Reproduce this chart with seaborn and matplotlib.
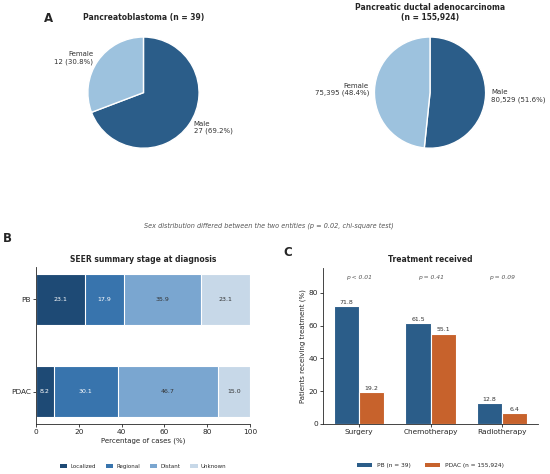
import matplotlib
matplotlib.use("Agg")
import matplotlib.pyplot as plt
import seaborn as sns
import pandas as pd
import numpy as np

sns.set_style("ticks")
plt.rcParams['font.family'] = ['DejaVu Sans']

# ---- data ----
sex_labels = ["Male", "Female"]
pb_sex = [27, 12]
pdac_sex = [80529, 75395]

groups = ["PB", "PDAC"]
stages = ["Localized", "Regional", "Distant", "Unknown"]
pb_stage = [23.1, 17.9, 35.9, 23.1]
pdac_stage = [8.2, 30.1, 46.7, 15.0]

treatments = ["Surgery", "Chemotherapy", "Radiotherapy"]
pb_treat = [71.8, 61.5, 12.8]
pdac_treat = [19.2, 55.1, 6.4]
p_values = ["p < 0.01", "p = 0.41", "p = 0.09"]
treat_series = ["PB (n = 39)", "PDAC (n = 155,924)"]

c_dark = "#2b5d89"
c_light = "#9dc2de"
c_orange = "#c7622c"
stage_colors = ["#1e4a75", "#3874ad", "#7aa6d0", "#c7d8e8"]
stage_text = ["white", "white", "#333333", "#333333"]

fig = plt.figure(figsize=(5.5, 4.74), dpi=100)

# ---- Panel A: pies ----
def draw_pie(ax, vals, title):
    tot = sum(vals)
    labs = [f"{l}\n{v:,} ({v / tot * 100:.1f}%)" for l, v in zip(sex_labels, vals)]
    ax.pie(vals, labels=labs, colors=[c_dark, c_light], startangle=90,
           counterclock=False, wedgeprops=dict(edgecolor="white", linewidth=1.0),
           textprops=dict(fontsize=5, color="#333333"), labeldistance=1.1)
    ax.set_xlim(-1.25, 1.25)
    ax.set_ylim(-1.25, 1.25)
    ax.set_title(title, fontsize=5.5, fontweight="bold", pad=2)

axA1 = fig.add_axes([0.1345, 0.658, 0.2527, 0.2932])
draw_pie(axA1, pb_sex, "Pancreatoblastoma (n = 39)")
axA2 = fig.add_axes([0.6555, 0.658, 0.2527, 0.2932])
draw_pie(axA2, pdac_sex, "Pancreatic ductal adenocarcinoma\n(n = 155,924)")

fig.text(0.488, 0.523,
         "Sex distribution differed between the two entities (p = 0.02, chi-square test)",
         fontsize=4.7, style="italic", color="#555555", ha="center", va="center")

# ---- Panel B: stacked stage bars ----
axB = fig.add_axes([0.0655, 0.1055, 0.389, 0.331])
stage_df = pd.DataFrame({"group": np.repeat(groups, len(stages)),
                         "stage": stages * len(groups),
                         "pct": pb_stage + pdac_stage})
stage_df["cum"] = stage_df.groupby("group")["pct"].cumsum()
for i in range(len(stages) - 1, -1, -1):
    sub = stage_df[stage_df["stage"] == stages[i]]
    sns.barplot(data=sub, x="cum", y="group", orient="h", color=stage_colors[i],
                saturation=1, width=0.55, edgecolor="white", linewidth=0.8,
                ax=axB, label=stages[i])
for gi, g in enumerate(groups):
    sub = stage_df[stage_df["group"] == g]
    for si, (p, c) in enumerate(zip(sub["pct"], sub["cum"])):
        axB.text(c - p / 2, gi, f"{p:.1f}", ha="center", va="center",
                 fontsize=4.5, color=stage_text[si])
axB.set_xlim(0, 100)
axB.set_ylim(1.35, -0.35)
axB.set_xlabel("Percentage of cases (%)", fontsize=5, labelpad=2)
axB.set_ylabel("")
axB.set_title("SEER summary stage at diagnosis", fontsize=5.5, fontweight="bold", pad=4)
axB.tick_params(labelsize=5.3, length=2, width=0.6, pad=1.5)
for s in ["left", "bottom"]:
    axB.spines[s].set_linewidth(0.6)
sns.despine(ax=axB)
h, l = axB.get_legend_handles_labels()
order = [l.index(s) for s in stages]
legB = axB.legend([h[k] for k in order], [l[k] for k in order], loc="upper center",
                  bbox_to_anchor=(0.5, -0.22), ncol=4, frameon=False, fontsize=4,
                  handlelength=1.3, handleheight=0.7, columnspacing=1.8,
                  handletextpad=0.6)
for hh in legB.legend_handles:
    hh.set_edgecolor("none")

# ---- Panel C: treatment ----
axC = fig.add_axes([0.5873, 0.1055, 0.391, 0.329])
treat_df = pd.DataFrame({"treatment": treatments * 2,
                         "series": np.repeat(treat_series, len(treatments)),
                         "pct": pb_treat + pdac_treat})
sns.barplot(data=treat_df, x="treatment", y="pct", hue="series",
            palette=[c_dark, c_orange], saturation=1, width=0.7,
            edgecolor="white", linewidth=0.8, ax=axC)
for cont in axC.containers:
    axC.bar_label(cont, fmt="%.1f", fontsize=4.5, padding=1, color="#333333")
for i, p in enumerate(p_values):
    axC.text(i, 89, p, ha="center", va="center", fontsize=4.3, style="italic",
             color="#555555")
axC.set_ylim(0, 95)
axC.set_yticks([0, 20, 40, 60, 80])
axC.set_xlabel("")
axC.set_ylabel("Patients receiving treatment (%)", fontsize=5, labelpad=2)
axC.set_title("Treatment received", fontsize=5.5, fontweight="bold", pad=4)
axC.tick_params(labelsize=5.3, length=2, width=0.6, pad=1.5)
for s in ["left", "bottom"]:
    axC.spines[s].set_linewidth(0.6)
sns.despine(ax=axC)
legC = axC.legend(loc="upper center", bbox_to_anchor=(0.5, -0.215), ncol=2,
                  frameon=False, fontsize=4.2, handlelength=2.6, handleheight=0.7,
                  columnspacing=2.5, handletextpad=0.8)
for hh in legC.legend_handles:
    hh.set_edgecolor("none")

# ---- panel letters ----
fig.text(0.08, 0.96, "A", fontsize=8.5, fontweight="bold", ha="left", va="center")
fig.text(0.005, 0.497, "B", fontsize=8.5, fontweight="bold", ha="left", va="center")
fig.text(0.515, 0.468, "C", fontsize=8.5, fontweight="bold", ha="left", va="center")

fig.savefig("out.png", dpi=100)
